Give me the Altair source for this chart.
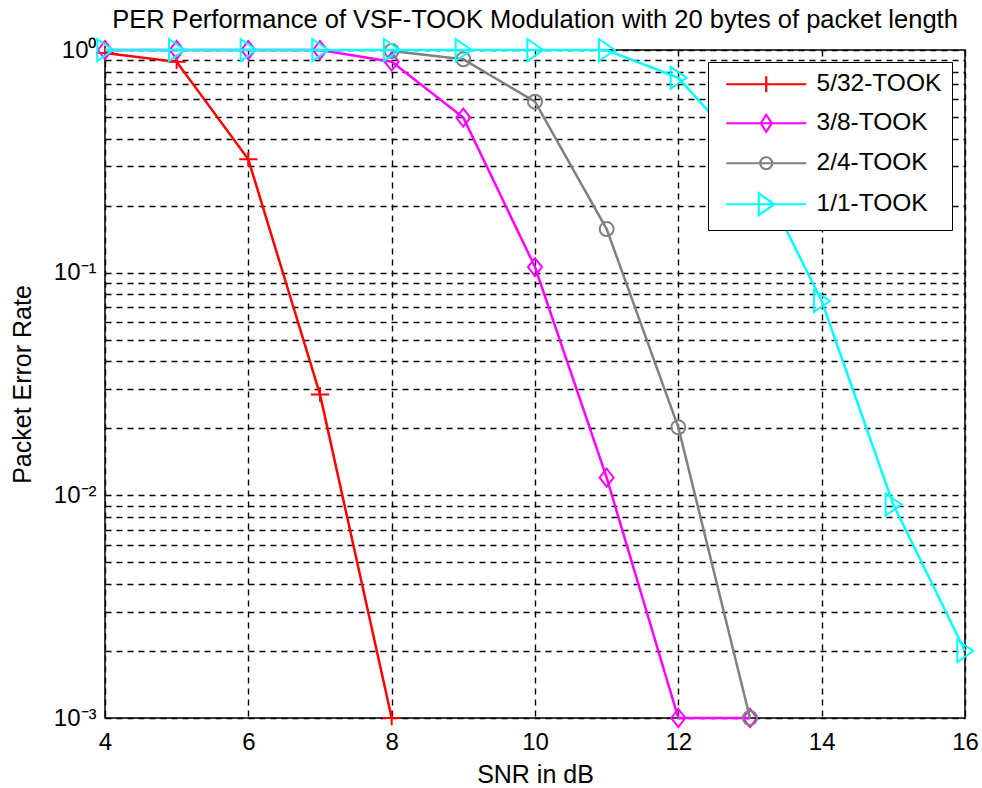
import altair as alt
import pandas as pd

# ---- data ----
series = ["5/32-TOOK", "3/8-TOOK", "2/4-TOOK", "1/1-TOOK"]
colors = ["#FF0000", "#FF00FF", "#808080", "#00FFFF"]

red_x = [4, 5, 6, 7, 8]
red_y = [0.97, 0.885, 0.323, 0.0284, 0.001]

mag_x = [4, 5, 6, 7, 8, 9, 10, 11, 12, 13]
mag_y = [1.0, 1.0, 1.0, 1.0, 0.886, 0.497, 0.106, 0.012, 0.001, 0.001]

gray_x = [8, 9, 10, 11, 12, 13]
gray_y = [0.99, 0.908, 0.586, 0.157, 0.0202, 0.001]

cyan_x = [4, 5, 6, 7, 8, 9, 10, 11, 12, 13, 14, 15, 16]
cyan_y = [1.0, 1.0, 1.0, 1.0, 1.0, 1.0, 1.0, 1.0, 0.75, 0.33, 0.0746, 0.0091, 0.0020]

x_ticks = [4, 6, 8, 10, 12, 14, 16]
decades = [1.0, 0.1, 0.01, 0.001]
decade_labels = ["10⁰", "10⁻¹", "10⁻²", "10⁻³"]
y_grid = sorted({round(k * d, 6) for d in [0.001, 0.01, 0.1] for k in range(1, 10)} | {1.0})

title_text = "PER Performance of VSF-TOOK Modulation with 20 bytes of packet length"

# marker shapes (unit paths) and legend shapes (line + marker)
marker_paths = [
    "M-1,0L1,0M0,-0.8L0,0.8",
    "M0,-1L0.78,0L0,1L-0.78,0Z",
    "circle",
    "M-0.7,-1L0.75,0L-0.7,1Z",
]
marker_sizes = [330, 324, 196, 484]
legend_paths = [
    "M-4,0L4,0M-0.75,0L0.75,0M0,-0.8L0,0.8",
    "M-4,0L4,0M0,-0.85L0.55,0L0,0.85L-0.55,0Z",
    "M-4,0L4,0M0.6,0A0.6,0.6 0 1,1 -0.6,0A0.6,0.6 0 1,1 0.6,0Z",
    "M-4,0L4,0M-0.75,-1.1L0.8,0L-0.75,1.1Z",
]

frames = []
for name, xs, ys in [(series[0], red_x, red_y), (series[1], mag_x, mag_y),
                     (series[2], gray_x, gray_y), (series[3], cyan_x, cyan_y)]:
    frames.append(pd.DataFrame({"snr": xs, "per": ys, "series": name}))
df = pd.concat(frames, ignore_index=True)

FONT = "Liberation Sans"

label_expr = " : ".join(
    f"abs(datum.value - {d}) < {d * 1e-6} ? '{lab}'" for d, lab in zip(decades, decade_labels)
) + " : ''"

x_enc = alt.X("snr:Q", scale=alt.Scale(domain=[4, 16], nice=False, zero=False),
              axis=alt.Axis(values=x_ticks, title="SNR in dB", grid=True, ticks=False,
                            labelFlush=False, labelPadding=12, titlePadding=8, format="d"))
y_enc = alt.Y("per:Q", scale=alt.Scale(type="log", domain=[0.001, 1], nice=False),
              axis=alt.Axis(values=y_grid, title="Packet Error Rate", grid=True, ticks=False,
                            labelFlush=False, labelExpr=label_expr, labelPadding=9,
                            titlePadding=18))

layers = []
for i, name in enumerate(series):
    base = alt.Chart(df).transform_filter(alt.datum.series == name)
    layers.append(base.mark_line(color=colors[i], strokeWidth=2.5).encode(x=x_enc, y=y_enc))
    layers.append(base.mark_point(shape=marker_paths[i], size=marker_sizes[i], filled=False,
                                  color=colors[i], strokeWidth=2, opacity=1)
                  .encode(x="snr:Q", y="per:Q"))

legend_layer = alt.Chart(df).transform_filter("false").mark_point(filled=False, strokeWidth=2.2, opacity=1).encode(
    x="snr:Q", y="per:Q",
    color=alt.Color("series:N", scale=alt.Scale(domain=series, range=colors),
                    legend=alt.Legend(title=None, orient="none", legendX=603, legendY=12,
                                      strokeColor="black", fillColor="white", padding=10,
                                      labelFontSize=24.5, labelFont=FONT, labelColor="black",
                                      symbolSize=400, symbolStrokeWidth=2.2,
                                      symbolOffset=36, labelOffset=38, rowPadding=13)),
    shape=alt.Shape("series:N", scale=alt.Scale(domain=series, range=legend_paths)),
)
layers.append(legend_layer)

chart = alt.layer(*layers).properties(
    width=860, height=668,
    title=alt.TitleParams(title_text, fontSize=25.5, font=FONT, fontWeight="normal",
                          color="black", anchor="middle", offset=2),
    padding={"left": 105, "top": 50, "right": 17, "bottom": 70},
    autosize=alt.AutoSizeParams(type="none"),
    background="white",
).configure_view(stroke="black", strokeWidth=1.5).configure_axis(
    domain=False, gridColor="black", gridOpacity=1, gridDash=[6, 5], gridWidth=1.4,
    labelFont=FONT, labelFontSize=24, labelColor="black",
    titleFont=FONT, titleFontSize=25, titleFontWeight="normal", titleColor="black",
).configure_legend(symbolType="circle")

chart.save("out.html", embed_options={"renderer": "svg", "actions": False})
